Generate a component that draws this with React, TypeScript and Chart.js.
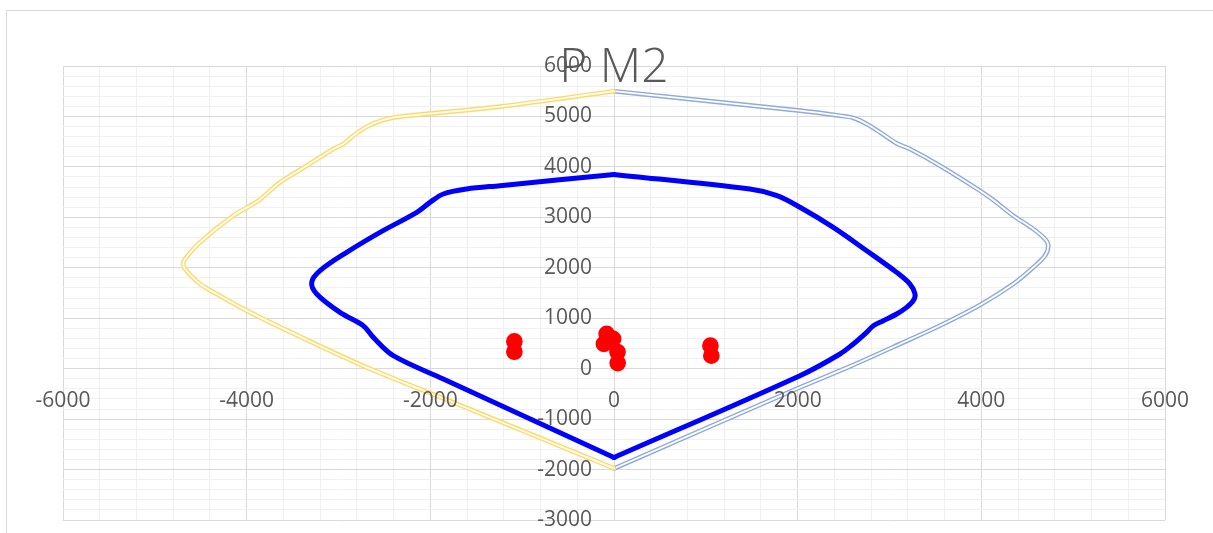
import React, { useEffect, useRef } from 'react';
import { Chart, registerables } from 'chart.js';

Chart.register(...registerables);

const TITLE = 'P M2';

const X_MIN = -6000;
const X_MAX = 6000;
const X_MINOR_STEP = 400;
const X_LABEL_STEP = 2000;
const Y_MIN = -3000;
const Y_MAX = 6000;
const Y_MINOR_STEP = 200;
const Y_LABEL_STEP = 1000;

// Outer envelope, negative moment side (yellow double line)
const envLeftX = [0, -1240, -2330, -2511, -2693, -2838, -2947, -3056, -3346, -3637, -3873, -4146, -4508, -4671, -4690, -4671, -4508, -4326, -4000, -3419, -2693, -1730, 0];
const envLeftY = [5500, 5195, 4996, 4930, 4797, 4619, 4454, 4355, 4024, 3693, 3330, 3033, 2504, 2175, 2076, 1976, 1679, 1481, 1150, 634, 26, -685, -1975];

// Outer envelope, positive moment side (light blue double line)
const envRightX = [0, 2025, 2461, 2606, 2751, 2897, 3078, 3223, 3550, 3985, 4140, 4348, 4566, 4693, 4729, 4693, 4566, 4348, 4004, 3586, 3114, 2570, 2025, 0];
const envRightY = [5500, 5115, 5015, 4970, 4851, 4685, 4466, 4355, 4024, 3529, 3330, 3033, 2769, 2571, 2438, 2240, 2008, 1679, 1283, 886, 490, 45, -371, -1980];

// Design capacity curve (blue), left half top -> bottom
const capLeftX = [0, -1241, -1604, -1859, -2004, -2148, -2548, -2911, -3201, -3292, -3237, -2984, -2730, -2621, -2403, -1859, 0];
const capLeftY = [3850, 3628, 3562, 3463, 3297, 3099, 2702, 2306, 1943, 1711, 1481, 1116, 852, 620, 258, -204, -1760];

// Design capacity curve (blue), right half bottom -> top
const capRightX = [0, 2025, 2461, 2606, 2751, 2824, 2933, 3078, 3186, 3259, 3278, 3223, 3078, 2751, 2388, 2025, 1775, 1480, 0];
const capRightY = [-1760, -139, 291, 490, 720, 852, 952, 1084, 1216, 1348, 1480, 1678, 1909, 2339, 2801, 3200, 3430, 3560, 3850];

// Demand points (red)
const demandX = [-1085, -1085, -80, -110, -10, 38, 40, 1050, 1060];
const demandY = [540, 335, 690, 490, 590, 330, 110, 456, 258];

const YELLOW = '#ffd966';
const LIGHT_BLUE = '#8faadc';
const BLUE = '#0000ff';
const RED = '#ff0000';
const GRID_MAJOR = '#d9d9d9';
const GRID_MINOR = '#f0f0f0';
const TEXT = '#595959';
const FONT = '"Open Sans", "DejaVu Sans", sans-serif';

const pts = (xs: number[], ys: number[]) => xs.map((x, i) => ({ x, y: ys[i] }));

const lineDs = (data: any[], color: string, width: number, order: number, tension = 0.33) => ({
  data,
  showLine: true,
  borderColor: color,
  backgroundColor: color,
  borderWidth: width,
  pointRadius: 0,
  pointHoverRadius: 0,
  tension,
  borderJoinStyle: 'round',
  borderCapStyle: 'round',
  fill: false,
  order,
});

const titlePlugin = {
  id: 'overlayTitle',
  afterDraw(chart: any) {
    const { ctx, chartArea } = chart;
    ctx.save();
    ctx.font = `300 48px ${FONT}`;
    ctx.fillStyle = TEXT;
    ctx.textAlign = 'center';
    ctx.textBaseline = 'alphabetic';
    ctx.fillText(TITLE, (chartArea.left + chartArea.right) / 2, chartArea.top + 16);
    ctx.restore();
  },
};

export default function App() {
  const canvasRef = useRef<HTMLCanvasElement | null>(null);

  useEffect(() => {
    if (!canvasRef.current) return;
    const leftEnv = pts(envLeftX, envLeftY);
    const rightEnv = pts(envRightX, envRightY);
    const chart = new Chart(canvasRef.current, {
      type: 'scatter',
      data: {
        datasets: [
          {
            data: pts(demandX, demandY),
            showLine: false,
            pointRadius: 7.6,
            pointHoverRadius: 7.6,
            pointBorderWidth: 1.5,
            backgroundColor: RED,
            borderColor: RED,
            order: 0,
          } as any,
          lineDs(pts(capLeftX, capLeftY), BLUE, 5, 1),
          lineDs(pts(capRightX, capRightY), BLUE, 5, 1),
          lineDs(leftEnv, '#ffffff', 1.8, 2),
          lineDs(leftEnv, YELLOW, 4.6, 3),
          lineDs(rightEnv, '#ffffff', 1.8, 4),
          lineDs(rightEnv, LIGHT_BLUE, 4.6, 5),
        ],
      },
      options: {
        responsive: false,
        animation: false,
        events: [],
        layout: { padding: { left: 63, top: 66, right: 48, bottom: 13 } },
        plugins: {
          legend: { display: false },
          tooltip: { enabled: false },
          title: { display: false },
        },
        scales: {
          x: {
            type: 'linear',
            min: X_MIN,
            max: X_MAX,
            position: { y: 0 } as any,
            grid: {
              drawTicks: false,
              lineWidth: 1,
              color: (c: any) => (c.tick && c.tick.value % X_LABEL_STEP === 0 ? GRID_MAJOR : GRID_MINOR),
            },
            border: { color: GRID_MAJOR, width: 1 },
            ticks: {
              stepSize: X_MINOR_STEP,
              autoSkip: false,
              maxRotation: 0,
              minRotation: 0,
              padding: 20,
              color: TEXT,
              font: { family: FONT, size: 21 },
              z: 1,
              callback: (v: any) => (Number(v) % X_LABEL_STEP === 0 ? String(v) : ''),
            },
          },
          y: {
            type: 'linear',
            min: Y_MIN,
            max: Y_MAX,
            position: 'center',
            grid: {
              drawTicks: true,
              tickLength: 22,
              tickColor: 'rgba(0,0,0,0)',
              lineWidth: 1,
              color: (c: any) => (c.tick && c.tick.value % Y_LABEL_STEP === 0 ? GRID_MAJOR : GRID_MINOR),
            },
            border: { color: GRID_MAJOR, width: 1 },
            ticks: {
              stepSize: Y_MINOR_STEP,
              autoSkip: false,
              padding: 0,
              color: TEXT,
              font: { family: FONT, size: 21 },
              z: 1,
              callback: (v: any) => (Number(v) % Y_LABEL_STEP === 0 ? String(v) : ''),
            },
          },
        },
      } as any,
      plugins: [titlePlugin],
    });
    return () => chart.destroy();
  }, []);

  return (
    <div style={{ position: 'fixed', left: 0, top: 0, width: 1213, height: 533, overflow: 'hidden', background: '#ffffff' }}>
      <div style={{ position: 'absolute', left: 6, top: 10, width: 1400, height: 800, border: '1px solid #d9d9d9', boxSizing: 'border-box' }} />
      <canvas ref={canvasRef} width={1213} height={533} style={{ position: 'absolute', left: 0, top: 0, width: 1213, height: 533 }} />
    </div>
  );
}
